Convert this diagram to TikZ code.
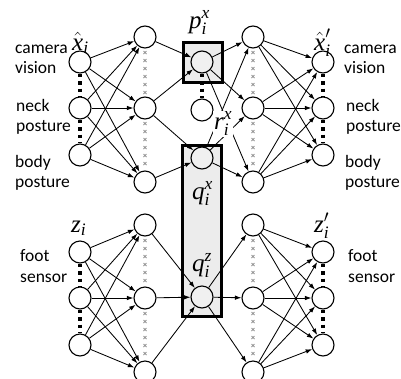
\documentclass[tikz,border=0pt]{standalone}
\usepackage{fontspec}
\usepackage{amsmath}
\setmainfont{Carlito}
\newfontfamily\tms{Liberation Serif}
\usetikzlibrary{arrows.meta,decorations.markings}
\newcommand\sv[1]{\text{\tms\itshape #1}}

\begin{document}
\begin{tikzpicture}[x=1pt,y=-1pt,
  unit/.style={circle, draw, line width=1.1pt, fill=white, minimum size=22pt, inner sep=0pt},
  midunit/.style={unit, fill=gray!12},
  link/.style={line width=0.85pt, -{Latex[length=6.5pt,width=4.5pt]}},
  bigdots/.style={line width=3.5pt, dash pattern=on 3.5pt off 4pt},
  crossdots/.style={postaction={decorate}, decoration={markings,
      mark=between positions 4pt and -3pt step 8pt with {
        \draw[gray!80, line width=0.9pt] (-1.5pt,-1.5pt) -- (1.5pt,1.5pt) (-1.5pt,1.5pt) -- (1.5pt,-1.5pt);}}},
  lbl/.style={anchor=base west, inner sep=0pt, font=\fontsize{17.5}{20}\selectfont},
  sym/.style={anchor=base west, inner sep=0pt, font=\fontsize{25}{27}\selectfont},
  hbox/.style={draw, line width=3pt, fill=gray!15, inner sep=0pt},
]
\useasboundingbox (0,0) rectangle (401,378);

% shaded blocks of the shared layer
\node[hbox, minimum width=39pt, minimum height=40pt] (pbox) at (202.5,62) {};
\node[hbox, minimum width=39pt, minimum height=171pt] (qbox) at (201.5,230.5) {};

% upper network
\foreach \i/\y in {1/62,2/108,3/155} {
  \node[unit] (ua\i) at (80,\y) {};
  \node[unit] (ud\i) at (323,\y) {};
}
\foreach \i/\y in {1/37,2/108,3/182} {
  \node[unit] (ub\i) at (145,\y) {};
  \node[unit] (uc\i) at (253,\y) {};
}
\node[midunit] (p) at (202,62) {};
\node[unit] (r) at (202,110) {};
\node[midunit] (qx) at (202,158) {};

% lower network
\foreach \i/\y in {1/252,2/298,3/345} {
  \node[unit] (la\i) at (80,\y) {};
  \node[unit] (ld\i) at (323,\y) {};
}
\foreach \i/\y in {1/225,2/298,3/372} {
  \node[unit] (lb\i) at (145,\y) {};
  \node[unit] (lc\i) at (253,\y) {};
}
\node[midunit] (qz) at (202,297) {};

% dotted columns
\foreach \c in {ua,ud,la,ld} {
  \draw[bigdots] (\c1) -- (\c2);
  \draw[bigdots] (\c2) -- (\c3);
}
\draw[bigdots] (p) -- (r);
\foreach \c in {ub,uc,lb,lc} {
  \path[crossdots] (\c1) -- (\c2);
  \path[crossdots] (\c2) -- (\c3);
}

% full connections between outer layers
\foreach \a in {1,2,3} {
  \foreach \b in {1,2,3} {
    \draw[link] (ua\a) -- (ub\b);
    \draw[link] (uc\a) -- (ud\b);
    \draw[link] (la\a) -- (lb\b);
    \draw[link] (lc\a) -- (ld\b);
  }
}

% connections through the shared layer
\draw[link] (ub1) -- (p);
\draw[link] (ub2) -- (p);
\draw[link] (ub2) -- (qx);
\draw[link] (ub3) -- (qx);
\foreach \b in {1,2,3} {
  \draw[link] (p) -- (uc\b);
  \draw[link] (qx) -- (uc\b);
  \draw[link] (lb\b) -- (qz);
  \draw[link] (qz) -- (lc\b);
}

% symbols
\node[sym] (xin) at (72,50) {$\hat{\sv{x}}_{\sv{i}}$};
\node[sym] (xout) at (314,50) {$\hat{\sv{x}}'_{\sv{i}}$};
\node[sym] (plbl) at (189,28) {$\sv{p}_{\sv{i}}^{\sv{x}}$};
\node[sym, fill=white, inner sep=1pt] (rlbl) at (213,129) {$\sv{r}_{\sv{i}}^{\sv{x}}$};
\node[sym] (qxlbl) at (192,199) {$\sv{q}_{\sv{i}}^{\sv{x}}$};
\node[sym] (qzlbl) at (192,271) {$\sv{q}_{\sv{i}}^{\sv{z}}$};
\node[sym] (zin) at (71,232) {$\sv{z}_{\sv{i}}$};
\node[sym] (zout) at (314,232) {$\sv{z}'_{\sv{i}}$};

% modality names
\node[lbl] (l1) at (15,53) {camera};
\node[lbl] (l2) at (15,73) {vision};
\node[lbl] (l3) at (16,111) {neck};
\node[lbl] (l4) at (16,131) {posture};
\node[lbl] (l5) at (15,167) {body};
\node[lbl] (l6) at (15,187) {posture};
\node[lbl] (l7) at (20,261) {foot};
\node[lbl] (l8) at (20,282) {sensor};
\node[lbl] (r1) at (344,53) {camera};
\node[lbl] (r2) at (344,73) {vision};
\node[lbl] (r3) at (346,111) {neck};
\node[lbl] (r4) at (346,131) {posture};
\node[lbl] (r5) at (345,167) {body};
\node[lbl] (r6) at (345,187) {posture};
\node[lbl] (r7) at (348,261) {foot};
\node[lbl] (r8) at (348,282) {sensor};
\end{tikzpicture}
\end{document}
